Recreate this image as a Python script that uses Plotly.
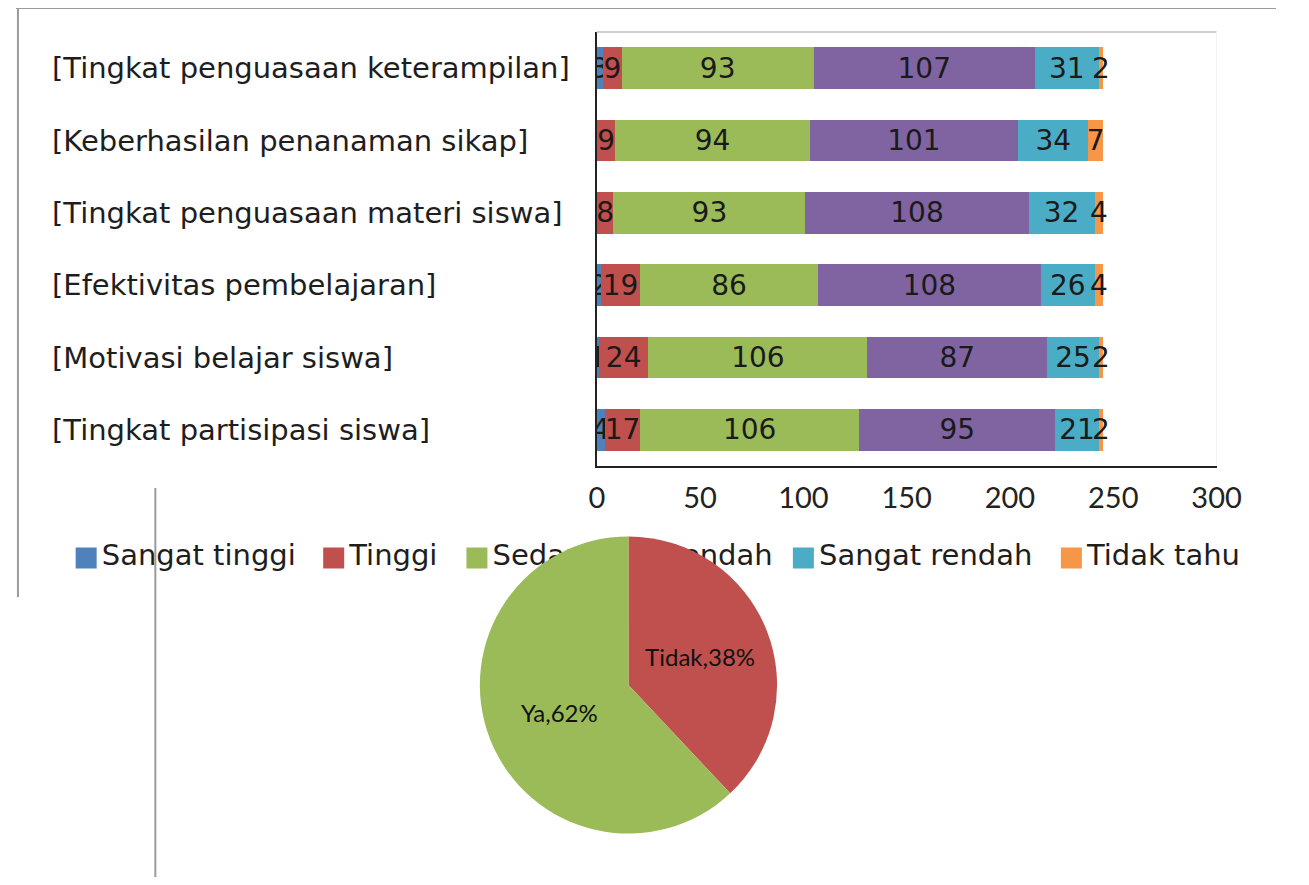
import plotly.graph_objects as go

# page body has an 8px margin: size the figure to the visible area and map reference pixels
OFF = 8
W, H = 1309 - 2 * OFF, 885 - 2 * OFF

categories = [
    "[Tingkat penguasaan keterampilan]",
    "[Keberhasilan penanaman sikap]",
    "[Tingkat penguasaan materi siswa]",
    "[Efektivitas pembelajaran]",
    "[Motivasi belajar siswa]",
    "[Tingkat partisipasi siswa]",
]
series_names = ["Sangat tinggi", "Tinggi", "Sedang", "Rendah", "Sangat rendah", "Tidak tahu"]
sangat_tinggi = [3, 0, 0, 2, 1, 4]
tinggi = [9, 9, 8, 19, 24, 17]
sedang = [93, 94, 93, 86, 106, 106]
rendah = [107, 101, 108, 108, 87, 95]
sangat_rendah = [31, 34, 32, 26, 25, 21]
tidak_tahu = [2, 7, 4, 4, 2, 2]
series_values = [sangat_tinggi, tinggi, sedang, rendah, sangat_rendah, tidak_tahu]
series_colors = ["#4F81BD", "#C0504D", "#9BBB59", "#8064A2", "#4BACC6", "#F79646"]
x_ticks = [0, 50, 100, 150, 200, 250, 300]

pie_labels = ["Tidak", "Ya"]
pie_values = [38, 62]
pie_colors = ["#C0504D", "#9BBB59"]


def px(x):
    return min(max((x - OFF) / W, 0), 1)


def py(y):
    return min(max(1 - (y - OFF) / H, 0), 1)


TXT = "DejaVu Sans"
fig = go.Figure()

for name, vals, col in zip(series_names, series_values, series_colors):
    fig.add_trace(go.Bar(
        y=categories, x=vals, orientation="h", name=name,
        marker=dict(color=col, line=dict(width=0)),
        text=[str(v) if v else "" for v in vals],
        textposition="inside", insidetextanchor="middle", textangle=0,
        constraintext="none",
        insidetextfont=dict(family=TXT, size=28, color="#1a1a1a"),
        showlegend=False, xaxis="x", yaxis="y",
    ))

# legend drawn on an overlay pixel axis (so the pie can sit above it)
legend_swatch_x = [80, 334, 481, 656, 816, 1091]
legend_text_x = [96, 350, 497, 672, 832, 1107]
legend_y = 558
fig.add_trace(go.Scatter(
    x=legend_swatch_x, y=[legend_y] * 6, mode="markers",
    marker=dict(symbol="square", size=21, color=series_colors),
    showlegend=False, hoverinfo="skip", xaxis="x2", yaxis="y2",
))
fig.add_trace(go.Scatter(
    x=legend_text_x, y=[legend_y] * 6, mode="text", text=series_names,
    textposition="middle right",
    textfont=dict(family=TXT, size=29, color="#1e1e1e"),
    showlegend=False, hoverinfo="skip", xaxis="x2", yaxis="y2", cliponaxis=False,
))

fig.add_trace(go.Pie(
    labels=pie_labels, values=pie_values, sort=False, direction="clockwise",
    rotation=0, marker=dict(colors=pie_colors, line=dict(width=0)),
    texttemplate="%{label},%{percent:.0%}", textposition="inside",
    insidetextorientation="horizontal",
    textfont=dict(family="Lato", size=24, color="#111111"),
    domain=dict(x=[px(484), px(789)], y=[py(838), py(532)]),
    showlegend=False, hoverinfo="label+percent",
))

annotations = [
    dict(x=px(43), xref="paper", y=c, yref="y", text=c, showarrow=False,
         xanchor="left", yanchor="middle",
         font=dict(family=TXT, size=29, color="#1e1e1e"))
    for c in categories
]

line_grey = "#9a9a9a"
shapes = [
    dict(type="line", xref="paper", yref="paper", x0=px(8), x1=1, y0=py(8), y1=py(8),
         line=dict(color=line_grey, width=2)),
    dict(type="line", xref="paper", yref="paper", x0=px(10), x1=px(10), y0=py(7), y1=py(597),
         line=dict(color=line_grey, width=2)),
    dict(type="line", xref="paper", yref="paper", x0=px(151), x1=px(151), y0=py(488), y1=0,
         line=dict(color=line_grey, width=2)),
    dict(type="line", xref="paper", yref="paper", x0=px(604), x1=px(1240), y0=py(32), y1=py(32),
         line=dict(color="#cfcfcf", width=2)),
    dict(type="line", xref="paper", yref="paper", x0=px(1240), x1=px(1240), y0=py(32), y1=py(466),
         line=dict(color="#f4f4f4", width=1)),
]

fig.update_layout(
    width=W, height=H, margin=dict(l=0, r=0, t=0, b=0),
    paper_bgcolor="white", plot_bgcolor="rgba(0,0,0,0)",
    barmode="stack", bargap=0.42,
    xaxis=dict(domain=[px(604), px(1240)], range=[0, 300], tickvals=x_ticks,
               showgrid=False, zeroline=False, showline=True, linecolor="#222222",
               linewidth=2, ticks="outside", ticklen=5, tickcolor="rgba(0,0,0,0)",
               tickfont=dict(family="Lato", size=29, color="#222222"), anchor="y"),
    yaxis=dict(domain=[py(466), py(32)], categoryorder="array", categoryarray=categories,
               autorange="reversed", showticklabels=False, showgrid=False, zeroline=False,
               showline=True, linecolor="#222222", linewidth=2, ticks="", anchor="x"),
    xaxis2=dict(domain=[0, 1], range=[OFF, OFF + W], visible=False, anchor="y2", fixedrange=True),
    yaxis2=dict(domain=[0, 1], range=[OFF + H, OFF], visible=False, anchor="x2", fixedrange=True),
    annotations=annotations, shapes=shapes,
)

fig.write_html("out.html")
